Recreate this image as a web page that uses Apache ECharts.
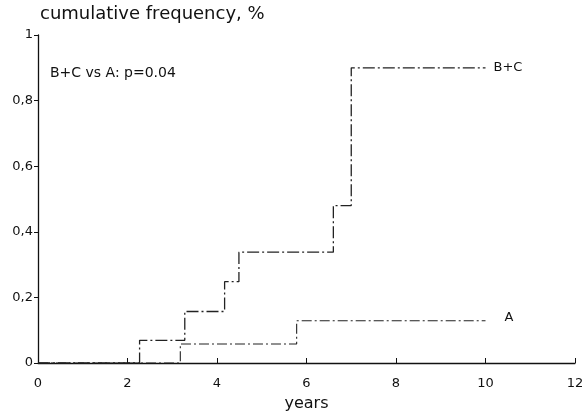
<!DOCTYPE html>
<html>
<head>
<meta charset="utf-8">
<script src="https://cdn.jsdelivr.net/npm/echarts@6/dist/echarts.min.js"></script>
<style>html,body{margin:0;padding:0;background:#fff}#c{width:583px;height:413px}</style>
</head>
<body>
<div id="c"></div>
<script>
var bcYears = [0, 2.27, 3.28, 4.17, 4.49, 6.6, 7.0, 10.0];
var bcFreq  = [0, 0.069, 0.157, 0.248, 0.338, 0.48, 0.90, 0.90];
var aYears  = [0, 3.18, 5.78, 10.0];
var aFreq   = [0, 0.058, 0.129, 0.129];
var xTicks = [0, 2, 4, 6, 8, 10, 12];
var yTicks = [0, 0.2, 0.4, 0.6, 0.8, 1];

function pairs(xs, ys){ return xs.map(function(x,i){ return [x, ys[i]]; }); }

var font = '"DejaVu Sans", Verdana, sans-serif';
var chart = echarts.init(document.getElementById('c'), null, {renderer:'canvas'});
chart.setOption({
  animation: false,
  backgroundColor: '#fff',
  grid: {left: 38, right: 8, top: 35, bottom: 50, containLabel: false, outerBoundsMode: 'none'},
  title: {
    text: 'cumulative frequency, %', left: 35, top: 0,
    textStyle: {fontFamily: font, fontSize: 18, fontWeight: 'normal', color: '#111'}
  },
  xAxis: {
    type: 'value', min: 0, max: 12, interval: 2,
    name: 'years', nameLocation: 'middle', nameGap: 33,
    nameTextStyle: {fontFamily: font, fontSize: 16, color: '#111'},
    axisLine: {lineStyle: {color: '#111', width: 1.3}},
    axisTick: {inside: true, length: 5, lineStyle: {color: '#111'}},
    axisLabel: {fontFamily: font, fontSize: 13, color: '#111', margin: 14},
    splitLine: {show: false}
  },
  yAxis: {
    type: 'value', min: 0, max: 1, interval: 0.2,
    axisLine: {show: true, lineStyle: {color: '#111', width: 1.3}},
    axisTick: {show: true, length: 4, lineStyle: {color: '#111'}},
    axisLabel: {fontFamily: font, fontSize: 13, color: '#111', margin: 5,
      formatter: function(v){ return v === 0 ? '0' : (v === 1 ? '1' : v.toFixed(1).replace('.', ',')); }},
    splitLine: {show: false}
  },
  graphic: [
    {type: 'text', left: 50, top: 66, style: {text: 'B+C vs A: p=0.04', font: '14px ' + font, fill: '#111'}}
  ],
  series: [
    {
      type: 'line', step: 'end', symbol: 'none', data: pairs(bcYears, bcFreq),
      lineStyle: {color: '#222', width: 1.3, type: [12, 3, 2, 3]},
      endLabel: {show: true, formatter: 'B+C', fontFamily: font, fontSize: 13, color: '#111', distance: 8}
    },
    {
      type: 'line', step: 'end', symbol: 'none', data: pairs(aYears, aFreq),
      lineStyle: {color: '#222', width: 1.1, type: [10, 3, 2, 3]},
      endLabel: {show: true, formatter: 'A', fontFamily: font, fontSize: 13, color: '#111', distance: 19, offset: [0, -3]}
    }
  ]
});
</script>
</body>
</html>
